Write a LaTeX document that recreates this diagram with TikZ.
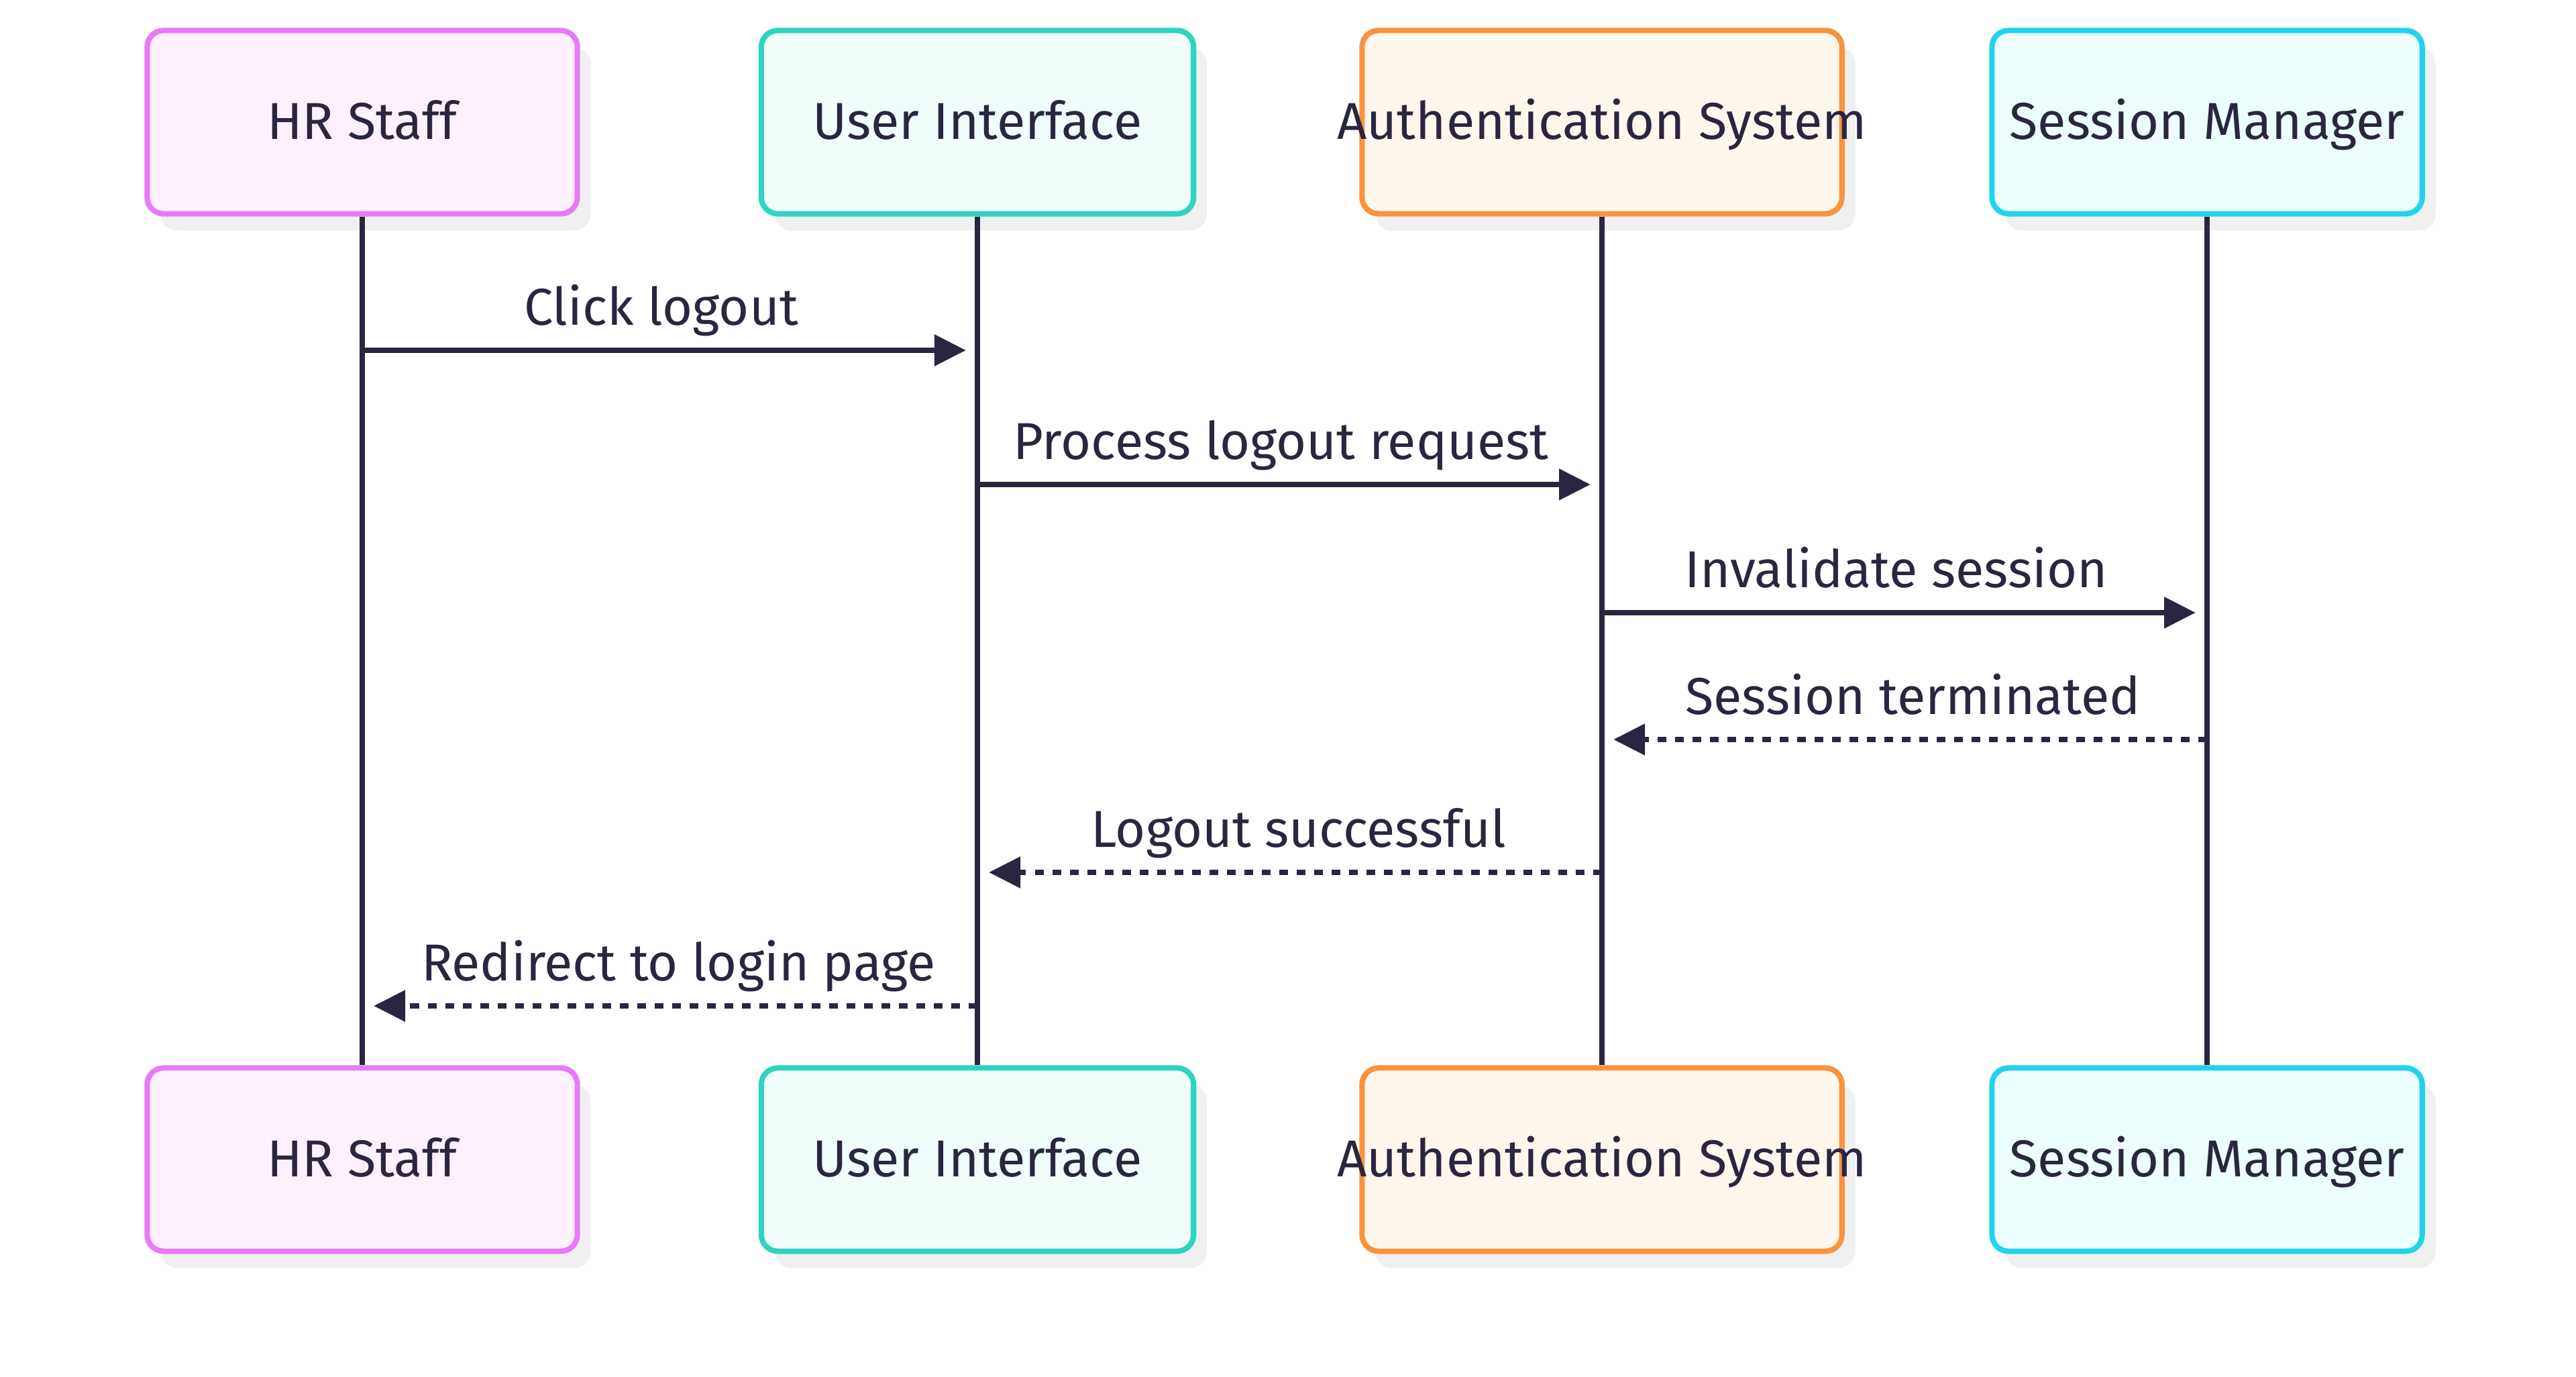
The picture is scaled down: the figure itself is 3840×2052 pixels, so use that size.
\documentclass[tikz,border=0pt]{standalone}
\usepackage{fontspec}
\setmainfont{Fira Sans}
\usetikzlibrary{positioning,shadows,arrows.meta}
\definecolor{inkcol}{HTML}{2A2640}
\definecolor{hrline}{HTML}{E879F9}
\definecolor{hrfill}{HTML}{FDF1FE}
\definecolor{uiline}{HTML}{2DD4BF}
\definecolor{uifill}{HTML}{F0FDFA}
\definecolor{authline}{HTML}{FB923C}
\definecolor{authfill}{HTML}{FFF7ED}
\definecolor{smline}{HTML}{22D3EE}
\definecolor{smfill}{HTML}{ECFEFF}
\tikzset{
  actor/.style n args={2}{draw=#1, fill=#2, line width=2.3pt, rounded corners=7pt,
    minimum height=2.73cm, minimum width=6.41cm, inner sep=0pt,
    text height=14.4pt, text depth=0pt,
    drop shadow={shadow xshift=0.2cm, shadow yshift=-0.25cm, fill=black!6, opacity=1}},
  life/.style={draw=inkcol, line width=2.5pt},
  msg/.style={draw=inkcol, line width=2.5pt, shorten >=0.17cm,
    -{Triangle[length=0.47cm, width=0.45cm]}},
  reply/.style={msg, dash pattern=on 0.13cm off 0.13cm},
  lbl/.style={pos=0.486, anchor=base, yshift=0.37cm, inner sep=0pt}
}
\begin{document}
\begin{tikzpicture}[x=0.01cm, y=-0.01cm, font=\fontsize{22}{26}\selectfont, text=inkcol]
    \useasboundingbox (0,0) rectangle (3840,2052);
    % actors, top and bottom
    \foreach \yy/\pos in {182/Top, 1728/Bot} {
        \node[actor={hrline}{hrfill}] (hr\pos) at (540,\yy) {HR Staff};
        \node[actor={uiline}{uifill}, minimum width=6.44cm] (ui\pos) at (1457,\yy) {User Interface};
        \node[actor={authline}{authfill}, minimum width=7.15cm] (auth\pos) at (2388,\yy) {\makebox[0pt]{Authentication System}};
        \node[actor={smline}{smfill}] (sm\pos) at (3290,\yy) {Session Manager};
    }
    % lifelines
    \foreach \who in {hr, ui, auth, sm}
        \draw[life] (\who Top) -- (\who Bot);
    % messages
    \foreach \i/\from/\to/\yy/\kind/\txt in {
            1/hr/ui/522/msg/Click logout,
            2/ui/auth/722/msg/Process logout request,
            3/auth/sm/913/msg/Invalidate session,
            4/sm/auth/1102/reply/Session terminated,
            5/auth/ui/1300/reply/Logout successful,
            6/ui/hr/1499/reply/Redirect to login page} {
        \path (\from Top |- 0,\yy) coordinate (s\i) (\to Top |- 0,\yy) coordinate (t\i);
        \draw[\kind] (s\i) -- node[lbl] {\txt} (t\i);
    }
\end{tikzpicture}
\end{document}
